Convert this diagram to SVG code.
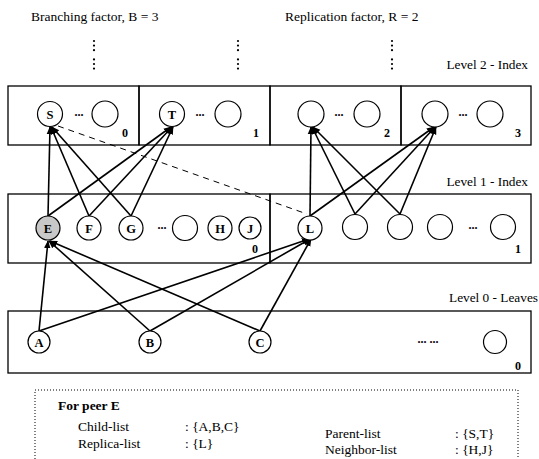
<svg xmlns="http://www.w3.org/2000/svg" width="539" height="459" viewBox="0 0 539 459">
<style>
text{font-family:"Liberation Serif","Times New Roman",serif;fill:#000}
.hdr{font-size:13.5px}
.lvl{font-size:13.3px;text-anchor:end}
.lbl{font-size:12.5px;font-weight:bold;text-anchor:middle}
.num{font-size:12px;font-weight:bold;text-anchor:middle}
.ell{font-size:12px;font-weight:bold;text-anchor:middle}
.box{fill:none;stroke:#000;stroke-width:1.3}
.nd{fill:#fff;stroke:#000;stroke-width:1.2}
.sh{fill:#c8c8c8}
.ar{stroke:#000;stroke-width:1.6;fill:none;marker-end:url(#ah)}
.dash{stroke:#000;stroke-width:1;fill:none;stroke-dasharray:6,5}
.dot{fill:#000}
.info{font-size:13.5px}
</style>
<defs>
<marker id="ah" viewBox="0 0 10 10" refX="9" refY="5" markerWidth="8" markerHeight="8" markerUnits="userSpaceOnUse" orient="auto">
<path d="M0,1 L10,5 L0,9 z" fill="#000"/>
</marker>
<g id="vd">
<circle cx="0" cy="41" r="1.1"/><circle cx="0" cy="45.6" r="1.1"/><circle cx="0" cy="50.2" r="1.1"/>
<circle cx="0" cy="59.4" r="1.1"/><circle cx="0" cy="64" r="1.1"/><circle cx="0" cy="68.6" r="1.1"/>
</g>
</defs>

<text class="hdr" x="31" y="21">Branching factor, B = 3</text>
<text class="hdr" x="285" y="21">Replication factor, R = 2</text>
<use href="#vd" x="94" class="dot"/>
<use href="#vd" x="238" class="dot"/>
<use href="#vd" x="392" class="dot"/>

<text class="lvl" x="528" y="69">Level 2 - Index</text>
<text class="lvl" x="528" y="186">Level 1 - Index</text>
<text class="lvl" x="538" y="302">Level 0 - Leaves</text>

<g id="level2">
<rect class="box" x="8" y="86" width="131" height="59"/>
<rect class="box" x="139" y="86" width="131" height="59"/>
<rect class="box" x="270" y="86" width="131" height="59"/>
<rect class="box" x="401" y="86" width="130" height="59"/>
<text class="num" x="125" y="137">0</text>
<text class="num" x="256" y="137">1</text>
<text class="num" x="387" y="137">2</text>
<text class="num" x="518" y="137">3</text>
<text class="ell" x="79" y="116">...</text>
<text class="ell" x="200" y="116">...</text>
<text class="ell" x="339" y="116">...</text>
<text class="ell" x="463" y="116">...</text>
</g>
<g id="level1">
<rect class="box" x="8" y="194" width="262" height="69"/>
<rect class="box" x="270" y="194" width="261" height="69"/>
<text class="num" x="255" y="253">0</text>
<text class="num" x="518" y="253">1</text>
<text class="ell" x="162" y="229">...</text>
<text class="ell" x="473" y="229">...</text>
</g>
<g id="level0">
<rect class="box" x="8" y="311" width="523" height="62"/>
<text class="num" x="518" y="370">0</text>
<text class="ell" x="428" y="343">... ...</text>
</g>

<g id="connectors">
<line class="dash" x1="58" y1="126" x2="307" y2="214"/>
<line class="ar" x1="48" y1="216" x2="50" y2="127"/>
<line class="ar" x1="89" y1="216" x2="51" y2="127"/>
<line class="ar" x1="131" y1="216" x2="52" y2="127"/>
<line class="ar" x1="48" y1="216" x2="171" y2="127"/>
<line class="ar" x1="89" y1="216" x2="172" y2="127"/>
<line class="ar" x1="131" y1="216" x2="173" y2="127"/>
<line class="ar" x1="310" y1="216" x2="311" y2="127"/>
<line class="ar" x1="355" y1="214" x2="312" y2="127"/>
<line class="ar" x1="400" y1="214" x2="313" y2="127"/>
<line class="ar" x1="310" y1="216" x2="434" y2="127"/>
<line class="ar" x1="355" y1="214" x2="435" y2="127"/>
<line class="ar" x1="400" y1="214" x2="436" y2="127"/>
<line class="ar" x1="39" y1="331" x2="48" y2="241"/>
<line class="ar" x1="150" y1="331" x2="49" y2="241"/>
<line class="ar" x1="260" y1="331" x2="50" y2="241"/>
<line class="ar" x1="39" y1="331" x2="309" y2="239"/>
<line class="ar" x1="150" y1="331" x2="310" y2="239"/>
<line class="ar" x1="260" y1="331" x2="311" y2="239"/>
</g>

<g id="node-S"><circle class="nd" cx="50" cy="114" r="12.5"/><text class="lbl" x="50" y="118.5">S</text></g>
<g id="node-l2a"><circle class="nd" cx="105" cy="114" r="13"/></g>
<g id="node-T"><circle class="nd" cx="172" cy="114" r="12.5"/><text class="lbl" x="172" y="118.5">T</text></g>
<g id="node-l2b"><circle class="nd" cx="228" cy="114" r="13"/></g>
<g id="node-l2c"><circle class="nd" cx="311" cy="114" r="13"/></g>
<g id="node-l2d"><circle class="nd" cx="367" cy="114" r="13"/></g>
<g id="node-l2e"><circle class="nd" cx="435" cy="114" r="13"/></g>
<g id="node-l2f"><circle class="nd" cx="490" cy="114" r="13"/></g>

<g id="node-E"><circle class="nd sh" cx="48" cy="228" r="12"/><text class="lbl" x="48" y="232.5">E</text></g>
<g id="node-F"><circle class="nd" cx="89" cy="228" r="12"/><text class="lbl" x="89" y="232.5">F</text></g>
<g id="node-G"><circle class="nd" cx="131" cy="228" r="12"/><text class="lbl" x="131" y="232.5">G</text></g>
<g id="node-l1a"><circle class="nd" cx="185" cy="228" r="12.5"/></g>
<g id="node-H"><circle class="nd" cx="220" cy="228" r="12"/><text class="lbl" x="220" y="232.5">H</text></g>
<g id="node-J"><circle class="nd" cx="250" cy="228" r="11"/><text class="lbl" x="250" y="232.5">J</text></g>
<g id="node-L"><circle class="nd" cx="310" cy="228" r="12"/><text class="lbl" x="310" y="232.5">L</text></g>
<g id="node-l1b"><circle class="nd" cx="355" cy="227" r="12.5"/></g>
<g id="node-l1c"><circle class="nd" cx="400" cy="227" r="12.5"/></g>
<g id="node-l1d"><circle class="nd" cx="440" cy="227" r="12.5"/></g>
<g id="node-l1e"><circle class="nd" cx="503" cy="227" r="12.5"/></g>

<g id="node-A"><circle class="nd" cx="39" cy="342" r="11"/><text class="lbl" x="39" y="346.5">A</text></g>
<g id="node-B"><circle class="nd" cx="150" cy="342" r="11"/><text class="lbl" x="150" y="346.5">B</text></g>
<g id="node-C"><circle class="nd" cx="260" cy="342" r="11"/><text class="lbl" x="260" y="346.5">C</text></g>
<g id="node-l0a"><circle class="nd" cx="495" cy="342" r="11.5"/></g>

<g id="info">
<path d="M35,459 V390 H518 V459" fill="none" stroke="#000" stroke-width="1" stroke-dasharray="1,2"/>
<text class="info" x="58" y="410" font-weight="bold" font-size="12.5px">For peer E</text>
<text class="info" x="78" y="431">Child-list</text>
<text class="info" x="78" y="448">Replica-list</text>
<text class="info" x="185" y="431">: {A,B,C}</text>
<text class="info" x="185" y="448">: {L}</text>
<text class="info" x="325" y="438">Parent-list</text>
<text class="info" x="325" y="454">Neighbor-list</text>
<text class="info" x="455" y="438">: {S,T}</text>
<text class="info" x="455" y="454">: {H,J}</text>
</g>
</svg>
